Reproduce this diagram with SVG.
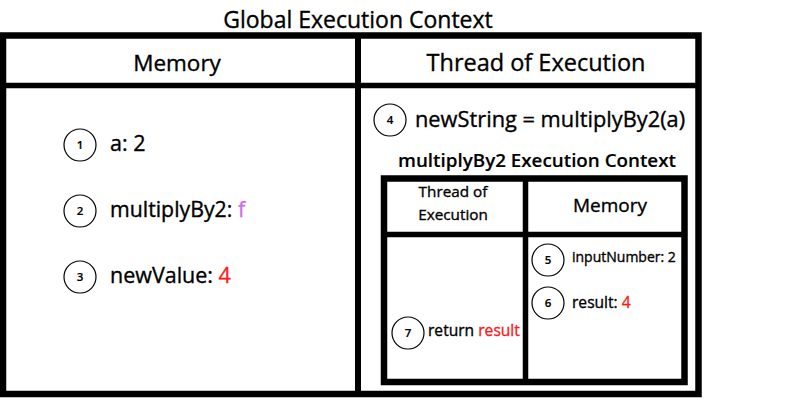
<svg xmlns="http://www.w3.org/2000/svg" width="800" height="400" viewBox="0 0 800 400">
<style>
text{font-family:"Open Sans","Noto Sans",sans-serif;fill:#000;stroke:#000;stroke-width:0.35}
.frame{fill:none;stroke:#000}
.num{fill:#fff;stroke:#000;stroke-width:1.2}
.n{font-size:11.5px;font-weight:600;text-anchor:middle;stroke-width:0.2}
.b{font-weight:600;stroke-width:0.15}
.red{fill:#ff1a1a;stroke:#ff1a1a}
.vio{fill:#cc6ee8;stroke:#cc6ee8}
.mid{text-anchor:middle}
</style>
<rect width="800" height="400" fill="#fff"/>
<text x="358" y="28" class="mid" font-size="23">Global Execution Context</text>
<g id="global-frame">
<rect class="frame" x="3" y="35.5" width="695.5" height="358.5" stroke-width="6.5"/>
<line x1="3" y1="85.5" x2="698" y2="85.5" stroke="#000" stroke-width="5.5"/>
<line x1="358" y1="35" x2="358" y2="394" stroke="#000" stroke-width="6"/>
<text x="177" y="71" class="mid" font-size="22.5">Memory</text>
<text x="536" y="71" class="mid" font-size="23.5">Thread of Execution</text>
</g>
<g id="n1"><circle class="num" cx="80" cy="145" r="16"/><text x="80" y="149" class="n">1</text><text x="110" y="151" font-size="21.5">a: 2</text></g>
<g id="n2"><circle class="num" cx="80" cy="211" r="16"/><text x="80" y="215" class="n">2</text><text x="110" y="217" font-size="21.3">multiplyBy2: <tspan class="vio">f</tspan></text></g>
<g id="n3"><circle class="num" cx="80" cy="277" r="16"/><text x="80" y="281" class="n">3</text><text x="110" y="283" font-size="21.5">newValue: <tspan class="red">4</tspan></text></g>
<g id="n4"><circle class="num" cx="390" cy="120" r="16"/><text x="390" y="124" class="n">4</text><text x="415" y="127" font-size="21.8">newString = multiplyBy2(a)</text></g>
<text x="537" y="167" class="mid b" font-size="18.8">multiplyBy2 Execution Context</text>
<g id="inner-frame">
<rect class="frame" x="384" y="178.5" width="300.5" height="203.5" stroke-width="6.5"/>
<line x1="384" y1="234.5" x2="684" y2="234.5" stroke="#000" stroke-width="5.5"/>
<line x1="525.5" y1="178" x2="525.5" y2="382" stroke="#000" stroke-width="5.5"/>
<text x="453" y="197" class="mid" font-size="15.3">Thread of</text>
<text x="453" y="220" class="mid" font-size="15.3">Execution</text>
<text x="610" y="212" class="mid" font-size="19">Memory</text>
</g>
<g id="n5"><circle class="num" cx="548" cy="260" r="16"/><text x="548" y="264" class="n">5</text><text x="572" y="262" font-size="14">inputNumber: 2</text></g>
<g id="n6"><circle class="num" cx="548" cy="303" r="16"/><text x="548" y="307" class="n">6</text><text x="572" y="308" font-size="15.6">result: <tspan class="red">4</tspan></text></g>
<g id="n7"><circle class="num" cx="408" cy="333" r="16"/><text x="408" y="337" class="n">7</text><text x="428" y="336" font-size="15.6">return <tspan class="red">result</tspan></text></g>
</svg>
